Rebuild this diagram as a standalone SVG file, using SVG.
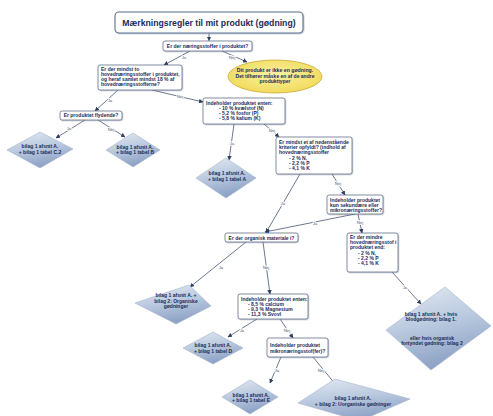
<svg xmlns="http://www.w3.org/2000/svg" width="493" height="416" viewBox="0 0 493 416">
<defs>
<linearGradient id="dg" x1="0" y1="0" x2="0.3" y2="1">
<stop offset="0" stop-color="#e3e9f2"/>
<stop offset="0.5" stop-color="#bccbe0"/>
<stop offset="1" stop-color="#8ea3c6"/>
</linearGradient>
<radialGradient id="yg" cx="0.5" cy="0.45" r="0.6">
<stop offset="0" stop-color="#fbf1a6"/>
<stop offset="1" stop-color="#f1d954"/>
</radialGradient>
<marker id="ah" viewBox="0 0 10 10" refX="9" refY="5" markerWidth="4.5" markerHeight="4.5" markerUnits="userSpaceOnUse" orient="auto">
<path d="M0,0 L10,5 L0,10 z" fill="#2c3d5e"/>
</marker>
<filter id="sh" x="-10%" y="-10%" width="130%" height="140%">
<feDropShadow dx="0.8" dy="0.8" stdDeviation="0.6" flood-color="#8090a8" flood-opacity="0.5"/>
</filter>
</defs>
<style>
.box{fill:#ffffff;stroke:#4d5d78;stroke-width:0.7;filter:url(#sh)}
.dia{fill:url(#dg);stroke:#a3b3cb;stroke-width:0.6}
.t{font-family:"Liberation Sans",Arial,sans-serif;font-size:5px;font-weight:bold;fill:#1b2b5a}
.c{text-anchor:middle}
.ttl{font-family:"Liberation Sans",Arial,sans-serif;font-size:8.7px;font-weight:bold;fill:#1b2b5a;text-anchor:middle}
.ln{stroke:#2c3d5e;stroke-width:0.7;fill:none;marker-end:url(#ah)}
.lb{font-family:"Liberation Sans",Arial,sans-serif;font-size:4.3px;fill:#4a5a78;text-anchor:middle;stroke:#ffffff;stroke-width:1.6px;paint-order:stroke}
</style>
<rect width="493" height="416" fill="#ffffff"/>

<g id="connectors">
<line class="ln" x1="209" y1="33" x2="209" y2="40.6"/>
<line class="ln" x1="190" y1="51" x2="164" y2="65"/>
<line class="ln" x1="222" y1="51" x2="247" y2="62"/>
<line class="ln" x1="118" y1="90" x2="95" y2="111"/>
<line class="ln" x1="152" y1="90" x2="203" y2="102"/>
<line class="ln" x1="85" y1="120" x2="56" y2="138"/>
<line class="ln" x1="98" y1="120" x2="125" y2="137"/>
<line class="ln" x1="234" y1="124" x2="229" y2="160"/>
<line class="ln" x1="264" y1="124" x2="279" y2="137"/>
<line class="ln" x1="300" y1="174" x2="266" y2="232.6"/>
<line class="ln" x1="332" y1="174" x2="345" y2="195"/>
<line class="ln" x1="355" y1="214" x2="265" y2="232"/>
<line class="ln" x1="358" y1="214" x2="362" y2="233"/>
<line class="ln" x1="392" y1="272" x2="421" y2="304"/>
<line class="ln" x1="246" y1="242" x2="190" y2="287"/>
<line class="ln" x1="263" y1="242" x2="270" y2="294"/>
<line class="ln" x1="257" y1="319" x2="228" y2="337"/>
<line class="ln" x1="280" y1="319" x2="293" y2="338"/>
<line class="ln" x1="281" y1="357" x2="270" y2="383"/>
<line class="ln" x1="313" y1="357" x2="336" y2="385"/>
<text class="lb" x="184" y="58.5">Ja</text>
<text class="lb" x="232" y="58.5">Nej</text>
<text class="lb" x="110" y="101.5">Ja</text>
<text class="lb" x="180" y="98">Nej</text>
<text class="lb" x="69" y="130">Ja</text>
<text class="lb" x="111" y="131">Nej</text>
<text class="lb" x="232" y="144.5">Ja</text>
<text class="lb" x="272" y="131.5">Nej</text>
<text class="lb" x="283" y="204.5">Ja</text>
<text class="lb" x="338" y="184.5">Nej</text>
<text class="lb" x="315" y="225">Ja</text>
<text class="lb" x="360" y="223.5">Nej</text>
<text class="lb" x="405" y="289">Ja</text>
<text class="lb" x="221" y="268.5">Ja</text>
<text class="lb" x="266" y="268.5">Nej</text>
<text class="lb" x="242" y="331.5">Ja</text>
<text class="lb" x="287" y="331.5">Nej</text>
<text class="lb" x="277" y="371.5">Ja</text>
<text class="lb" x="321" y="371.5">Nej</text>
</g>

<g id="title">
<rect x="115" y="12" width="188" height="21" rx="4" fill="#ffffff" stroke="#5b6f90" stroke-width="1.1" filter="url(#sh)"/>
<text class="ttl" x="209" y="25.8">Mærkningsregler til mit produkt (gødning)</text>
</g>

<g id="q-naeringsstoffer">
<rect class="box" x="163" y="41" width="89" height="10" rx="2"/>
<text class="t c" x="207.5" y="47.8">Er der næringsstoffer i produktet?</text>
</g>

<g id="q-mindst-to">
<rect class="box" x="98" y="65" width="84" height="25" rx="2"/>
<text class="t" x="101" y="70.8">Er der mindst to</text>
<text class="t" x="101" y="75.8">hovednæringsstoffer i produktet,</text>
<text class="t" x="101" y="80.8">og heraf samlet mindst 18 % af</text>
<text class="t" x="101" y="85.8">hovednæringsstofferne?</text>
</g>

<g id="ikke-goedning">
<ellipse cx="275" cy="76.5" rx="47" ry="16.5" fill="url(#yg)" stroke="#c8aa3c" stroke-width="0.8"/>
<text class="t c" x="275" y="72" style="font-size:5.2px">Dit produkt er ikke en gødning.</text>
<text class="t c" x="275" y="78">Det tilhører måske en af de andre</text>
<text class="t c" x="275" y="83.3">produkttyper</text>
</g>

<g id="q-flydende">
<rect class="box" x="60" y="111" width="62" height="9" rx="2"/>
<text class="t c" x="91" y="117.3">Er produktet flydende?</text>
</g>

<g id="q-enten-npk">
<rect class="box" x="203" y="98" width="82" height="26" rx="2"/>
<text class="t" x="206" y="104.5">Indeholder produktet enten:</text>
<text class="t" x="219" y="109.8">- 10 % kvælstof (N)</text>
<text class="t" x="219" y="115">- 5,2 % fosfor (P)</text>
<text class="t" x="219" y="120.2">- 5,8 % kalium (K)</text>
</g>

<g id="r-c2">
<polygon class="dia" points="40,132 73,149 40,168 7,150"/>
<text class="t c" x="40" y="148">bilag 1 afsnit A.</text>
<text class="t c" x="40" y="154">+ bilag 1 tabel C.2</text>
</g>

<g id="r-b">
<polygon class="dia" points="133,133 160,150 133,167 106,150"/>
<text class="t c" x="135" y="148.5">bilag 1 afsnit A.</text>
<text class="t c" x="135" y="154">+ bilag 1 tabel B</text>
</g>

<g id="r-a">
<polygon class="dia" points="226,158 256,178 226,198 196,178"/>
<text class="t c" x="227" y="175">bilag 1 afsnit A.</text>
<text class="t c" x="227" y="181">+ bilag 1 tabel A</text>
</g>

<g id="q-kriterier">
<rect class="box" x="276" y="137" width="76" height="37" rx="2"/>
<text class="t" x="279" y="143.5">Er mindst et af nedenstående</text>
<text class="t" x="279" y="148.5">kriterier opfyldt? (indhold af</text>
<text class="t" x="279" y="153.5">hovednæringsstoffer</text>
<text class="t" x="289" y="159.5">- 2 % N,</text>
<text class="t" x="289" y="164.5">- 2,2 % P</text>
<text class="t" x="289" y="169.5">- 4,1 % K</text>
</g>

<g id="q-sekundaere">
<rect class="box" x="327" y="195" width="56" height="19" rx="2"/>
<text class="t" x="330" y="201.8">Indeholder produktet</text>
<text class="t" x="330" y="206.8">kun sekundære eller</text>
<text class="t" x="330" y="211.8">mikronæringsstoffer?</text>
</g>

<g id="q-organisk">
<rect class="box" x="225" y="233" width="73" height="9" rx="2"/>
<text class="t c" x="261.5" y="239.5">Er der organisk materiale i?</text>
</g>

<g id="q-mindre">
<rect class="box" x="347" y="233" width="51" height="39" rx="2"/>
<text class="t" x="350" y="239">Er der mindre</text>
<text class="t" x="350" y="244">hovednæringsstof i</text>
<text class="t" x="350" y="249">produktet end:</text>
<text class="t" x="358" y="255">- 2 % N,</text>
<text class="t" x="358" y="260">- 2,2 % P</text>
<text class="t" x="358" y="265">- 4,1 % K</text>
</g>

<g id="r-blod">
<polygon class="dia" points="445,287 491,326 431,370 386,330"/>
<text class="t c" x="431" y="315.5">bilag 1 afsnit A. + hvis</text>
<text class="t c" x="431" y="321">blodgødning: bilag 1.</text>
<text class="t c" x="432" y="339.5">eller hvis organisk</text>
<text class="t c" x="432" y="345">fortyndet gødning: bilag 2</text>
</g>

<g id="r-organiske">
<polygon class="dia" points="189,285 211,306 176,324 135,303"/>
<text class="t c" x="176" y="297">bilag 1 afsnit A. +</text>
<text class="t c" x="176" y="302.5">bilag 2: Organiske</text>
<text class="t c" x="176" y="308">gødninger</text>
</g>

<g id="q-enten-ca">
<rect class="box" x="238" y="294" width="70" height="25" rx="2"/>
<text class="t" x="241" y="300.5">Indeholder produktet enten:</text>
<text class="t" x="248" y="305.5">- 8,5 % calcium</text>
<text class="t" x="248" y="310.5">- 9,3 % Magnesium</text>
<text class="t" x="248" y="315.5">- 11,3 % Svovl</text>
</g>

<g id="r-d">
<polygon class="dia" points="213,332 243,348 213,364 183,348"/>
<text class="t c" x="213" y="346.5">bilag 1 afsnit A.</text>
<text class="t c" x="213" y="352.5">+ bilag 1 tabel D</text>
</g>

<g id="q-mikro">
<rect class="box" x="267" y="338" width="61" height="19" rx="2"/>
<text class="t" x="270" y="346.5">Indeholder produktet</text>
<text class="t" x="270" y="352.5">mikronæringsstof(fer)?</text>
</g>

<g id="r-e">
<polygon class="dia" points="250,380 278,397 250,414 222,397"/>
<text class="t c" x="251" y="396.5">bilag 1 afsnit A.</text>
<text class="t c" x="251" y="402">+ bilag 1 tabel E</text>
</g>

<g id="r-uorganiske">
<polygon class="dia" points="335,379 410,399 360,421 298,403"/>
<text class="t c" x="353" y="400">bilag 1 afsnit A.</text>
<text class="t c" x="353" y="405.5">+ bilag 2: Uorganiske gødninger</text>
</g>
</svg>
